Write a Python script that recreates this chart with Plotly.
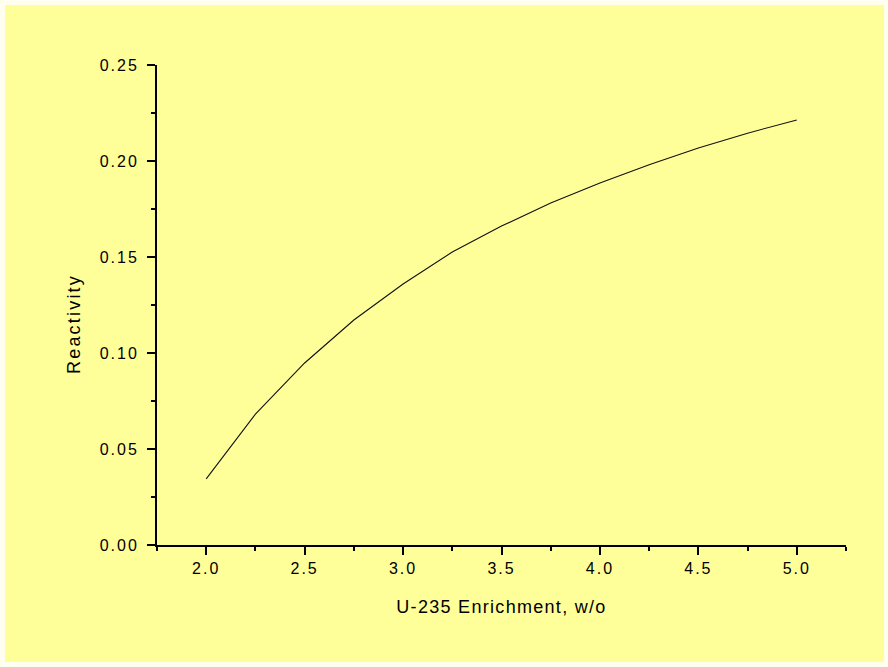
import plotly.graph_objects as go

# U-235 enrichment (w/o) and the resulting reactivity
enrichment = [2.0, 2.25, 2.5, 2.75, 3.0, 3.25, 3.5, 3.75, 4.0, 4.25, 4.5, 4.75, 5.0]
reactivity = [0.0344, 0.0682, 0.0948, 0.1172, 0.1359, 0.1526, 0.1661,
              0.1781, 0.1885, 0.1981, 0.2068, 0.2145, 0.2214]

x_title = "U-235 Enrichment, w/o"
y_title = "Reactivity"

W, H = 888, 667
L, R, T, B = 157, 42, 65, 122
pw, ph = W - L - R, H - T - B

fig = go.Figure()
fig.add_trace(go.Scatter(
    x=enrichment, y=reactivity, mode="lines",
    line=dict(color="#111111", width=1.1),
    showlegend=False, hoverinfo="skip",
))

# pale-yellow panel behind the whole chart
px0, px1 = 5, 884
py0, py1 = 5, 662
fig.add_shape(
    type="rect", xref="paper", yref="paper", layer="below",
    x0=(px0 - L) / pw, x1=(px1 - L) / pw,
    y0=(H - B - py1) / ph, y1=(H - B - py0) / ph,
    line=dict(width=0), fillcolor="#FFFF99",
)

tick_font = dict(family="Liberation Sans, Arial, sans-serif", size=16, color="#000000")
title_font = dict(family="Liberation Sans, Arial, sans-serif", size=18, color="#000000")
ytitle_font = dict(family="Liberation Sans, Arial, sans-serif", size=18, color="#000000")

axis_common = dict(
    showgrid=False, zeroline=False,
    showline=True, linecolor="#000000", linewidth=2,
    ticks="outside", ticklen=8, tickwidth=2, tickcolor="#000000",
    tickfont=tick_font, mirror=False,
)

fig.update_xaxes(
    **axis_common,
    range=[1.75, 5.25], tick0=0, dtick=0.5, tickformat=".1f",
    minor=dict(ticks="outside", dtick=0.25, tick0=0, ticklen=4,
               tickwidth=2, tickcolor="#000000"),
    title=dict(text=x_title, font=title_font, standoff=24),
)
fig.update_yaxes(
    **axis_common,
    range=[0, 0.25], tick0=0, dtick=0.05, tickformat=".2f",
    ticklabelstandoff=5,
    minor=dict(ticks="outside", dtick=0.025, tick0=0, ticklen=4,
               tickwidth=2, tickcolor="#000000"),
)

# y-axis title placed as a rotated annotation
fig.add_annotation(
    text=y_title, textangle=-90, showarrow=False,
    xref="paper", yref="paper",
    x=(74 - L) / pw, y=(H - B - 324) / ph,
    xanchor="center", yanchor="middle",
    font=ytitle_font,
)

fig.update_layout(
    width=W, height=H,
    margin=dict(l=L, r=R, t=T, b=B, autoexpand=False),
    paper_bgcolor="#FFFFF0",
    plot_bgcolor="rgba(0,0,0,0)",
)

# widen character spacing of the axis texts
spacing_css = """
var s = document.createElement('style');
s.textContent = '.xtick text, .ytick text {letter-spacing: 2px;}' +
                '.g-xtitle text {letter-spacing: 1.3px;}' +
                '.annotation-text {letter-spacing: 2.2px;}';
document.head.appendChild(s);
"""

fig.write_html("out.html", post_script=spacing_css)
